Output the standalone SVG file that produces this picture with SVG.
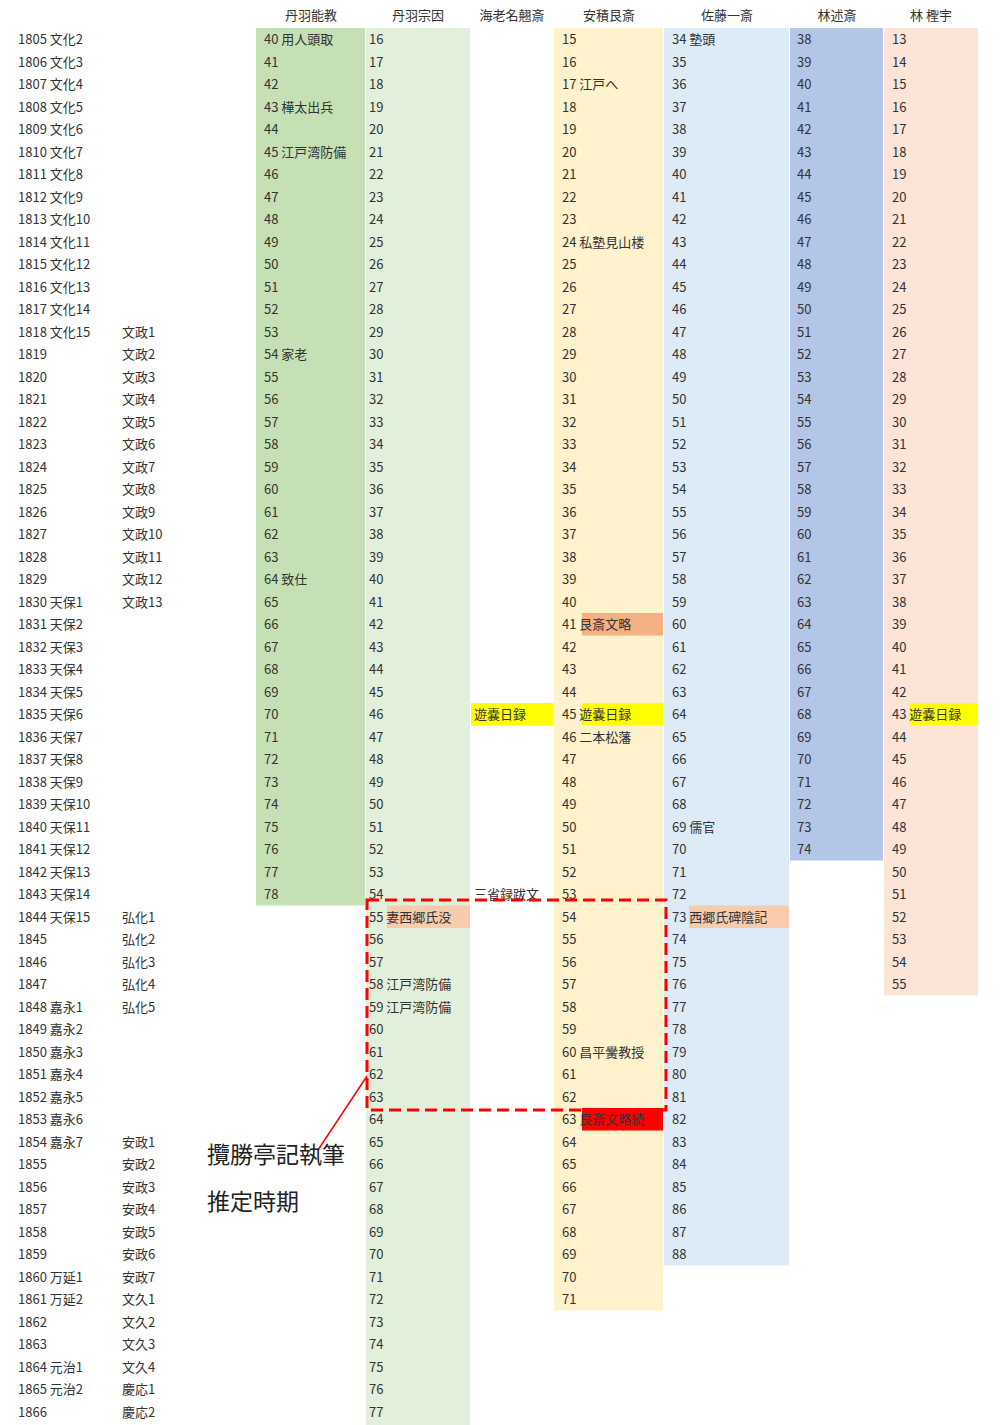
<svg xmlns="http://www.w3.org/2000/svg" width="1000" height="1425" viewBox="0 0 1000 1425">
<style>
text{font-family:"Noto Sans CJK JP","Noto Sans",sans-serif;font-size:13px;fill:#333}
.h{text-anchor:middle}
.big{font-family:"Noto Sans CJK JP",serif;font-size:23px;fill:#222}
</style>
<rect width="1000" height="1425" fill="#fff"/>
<g id="columns">
<rect x="256" y="28" width="109" height="877.5" fill="#c5e0b4"/>
<rect x="366" y="28" width="104" height="1397" fill="#e2efda"/>
<rect x="554" y="28" width="109" height="1282.5" fill="#fff2cc"/>
<rect x="664" y="28" width="125" height="1237.5" fill="#ddebf7"/>
<rect x="790" y="28" width="93" height="832.5" fill="#b4c6e7"/>
<rect x="884" y="28" width="94" height="967.5" fill="#fce4d6"/>
<rect x="582" y="613" width="81" height="22.5" fill="#f4b183"/>
<rect x="471" y="703" width="82" height="22.5" fill="#ffff00"/>
<rect x="582" y="703" width="81" height="22.5" fill="#ffff00"/>
<rect x="910" y="703" width="68" height="22.5" fill="#ffff00"/>
<rect x="387" y="905.5" width="83" height="22.5" fill="#f8cbad"/>
<rect x="689" y="905.5" width="100" height="22.5" fill="#f8cbad"/>
<rect x="582" y="1108" width="81" height="22.5" fill="#ff0000"/>
</g>
<g id="headers">
<text class="h" x="311" y="20">丹羽能教</text>
<text class="h" x="418" y="20">丹羽宗因</text>
<text class="h" x="512" y="20">海老名翹斎</text>
<text class="h" x="609" y="20">安積艮斎</text>
<text class="h" x="727" y="20">佐藤一斎</text>
<text class="h" x="837" y="20">林述斎</text>
<text class="h" x="931" y="20">林 檉宇</text>
</g>
<g id="years"><text>
<tspan x="18" y="44">1805 文化2</tspan><tspan x="18" y="66.5">1806 文化3</tspan><tspan x="18" y="89">1807 文化4</tspan><tspan x="18" y="111.5">1808 文化5</tspan><tspan x="18" y="134">1809 文化6</tspan><tspan x="18" y="156.5">1810 文化7</tspan><tspan x="18" y="179">1811 文化8</tspan><tspan x="18" y="201.5">1812 文化9</tspan><tspan x="18" y="224">1813 文化10</tspan><tspan x="18" y="246.5">1814 文化11</tspan><tspan x="18" y="269">1815 文化12</tspan><tspan x="18" y="291.5">1816 文化13</tspan><tspan x="18" y="314">1817 文化14</tspan><tspan x="18" y="336.5">1818 文化15</tspan><tspan x="18" y="359">1819</tspan><tspan x="18" y="381.5">1820</tspan><tspan x="18" y="404">1821</tspan><tspan x="18" y="426.5">1822</tspan><tspan x="18" y="449">1823</tspan><tspan x="18" y="471.5">1824</tspan><tspan x="18" y="494">1825</tspan><tspan x="18" y="516.5">1826</tspan><tspan x="18" y="539">1827</tspan><tspan x="18" y="561.5">1828</tspan><tspan x="18" y="584">1829</tspan><tspan x="18" y="606.5">1830 天保1</tspan><tspan x="18" y="629">1831 天保2</tspan><tspan x="18" y="651.5">1832 天保3</tspan><tspan x="18" y="674">1833 天保4</tspan><tspan x="18" y="696.5">1834 天保5</tspan><tspan x="18" y="719">1835 天保6</tspan><tspan x="18" y="741.5">1836 天保7</tspan><tspan x="18" y="764">1837 天保8</tspan><tspan x="18" y="786.5">1838 天保9</tspan><tspan x="18" y="809">1839 天保10</tspan><tspan x="18" y="831.5">1840 天保11</tspan><tspan x="18" y="854">1841 天保12</tspan><tspan x="18" y="876.5">1842 天保13</tspan><tspan x="18" y="899">1843 天保14</tspan><tspan x="18" y="921.5">1844 天保15</tspan><tspan x="18" y="944">1845</tspan><tspan x="18" y="966.5">1846</tspan><tspan x="18" y="989">1847</tspan><tspan x="18" y="1011.5">1848 嘉永1</tspan><tspan x="18" y="1034">1849 嘉永2</tspan><tspan x="18" y="1056.5">1850 嘉永3</tspan><tspan x="18" y="1079">1851 嘉永4</tspan><tspan x="18" y="1101.5">1852 嘉永5</tspan><tspan x="18" y="1124">1853 嘉永6</tspan><tspan x="18" y="1146.5">1854 嘉永7</tspan><tspan x="18" y="1169">1855</tspan><tspan x="18" y="1191.5">1856</tspan><tspan x="18" y="1214">1857</tspan><tspan x="18" y="1236.5">1858</tspan><tspan x="18" y="1259">1859</tspan><tspan x="18" y="1281.5">1860 万延1</tspan><tspan x="18" y="1304">1861 万延2</tspan><tspan x="18" y="1326.5">1862</tspan><tspan x="18" y="1349">1863</tspan><tspan x="18" y="1371.5">1864 元治1</tspan><tspan x="18" y="1394">1865 元治2</tspan><tspan x="18" y="1416.5">1866</tspan>
</text>
<text>
<tspan x="122" y="336.5">文政1</tspan><tspan x="122" y="359">文政2</tspan><tspan x="122" y="381.5">文政3</tspan><tspan x="122" y="404">文政4</tspan><tspan x="122" y="426.5">文政5</tspan><tspan x="122" y="449">文政6</tspan><tspan x="122" y="471.5">文政7</tspan><tspan x="122" y="494">文政8</tspan><tspan x="122" y="516.5">文政9</tspan><tspan x="122" y="539">文政10</tspan><tspan x="122" y="561.5">文政11</tspan><tspan x="122" y="584">文政12</tspan><tspan x="122" y="606.5">文政13</tspan>
<tspan x="122" y="921.5">弘化1</tspan><tspan x="122" y="944">弘化2</tspan><tspan x="122" y="966.5">弘化3</tspan><tspan x="122" y="989">弘化4</tspan><tspan x="122" y="1011.5">弘化5</tspan>
<tspan x="122" y="1146.5">安政1</tspan><tspan x="122" y="1169">安政2</tspan><tspan x="122" y="1191.5">安政3</tspan><tspan x="122" y="1214">安政4</tspan><tspan x="122" y="1236.5">安政5</tspan><tspan x="122" y="1259">安政6</tspan><tspan x="122" y="1281.5">安政7</tspan><tspan x="122" y="1304">文久1</tspan><tspan x="122" y="1326.5">文久2</tspan><tspan x="122" y="1349">文久3</tspan><tspan x="122" y="1371.5">文久4</tspan><tspan x="122" y="1394">慶応1</tspan><tspan x="122" y="1416.5">慶応2</tspan>
</text></g>
<g id="col-yoshinori"><text>
<tspan x="264" y="44">40 用人頭取</tspan><tspan x="264" y="66.5">41</tspan><tspan x="264" y="89">42</tspan><tspan x="264" y="111.5">43 樺太出兵</tspan><tspan x="264" y="134">44</tspan><tspan x="264" y="156.5">45 江戸湾防備</tspan><tspan x="264" y="179">46</tspan><tspan x="264" y="201.5">47</tspan><tspan x="264" y="224">48</tspan><tspan x="264" y="246.5">49</tspan><tspan x="264" y="269">50</tspan><tspan x="264" y="291.5">51</tspan><tspan x="264" y="314">52</tspan><tspan x="264" y="336.5">53</tspan><tspan x="264" y="359">54 家老</tspan><tspan x="264" y="381.5">55</tspan><tspan x="264" y="404">56</tspan><tspan x="264" y="426.5">57</tspan><tspan x="264" y="449">58</tspan><tspan x="264" y="471.5">59</tspan><tspan x="264" y="494">60</tspan><tspan x="264" y="516.5">61</tspan><tspan x="264" y="539">62</tspan><tspan x="264" y="561.5">63</tspan><tspan x="264" y="584">64 致仕</tspan><tspan x="264" y="606.5">65</tspan><tspan x="264" y="629">66</tspan><tspan x="264" y="651.5">67</tspan><tspan x="264" y="674">68</tspan><tspan x="264" y="696.5">69</tspan><tspan x="264" y="719">70</tspan><tspan x="264" y="741.5">71</tspan><tspan x="264" y="764">72</tspan><tspan x="264" y="786.5">73</tspan><tspan x="264" y="809">74</tspan><tspan x="264" y="831.5">75</tspan><tspan x="264" y="854">76</tspan><tspan x="264" y="876.5">77</tspan><tspan x="264" y="899">78</tspan>
</text></g>
<g id="col-soin"><text>
<tspan x="369" y="44">16</tspan><tspan x="369" y="66.5">17</tspan><tspan x="369" y="89">18</tspan><tspan x="369" y="111.5">19</tspan><tspan x="369" y="134">20</tspan><tspan x="369" y="156.5">21</tspan><tspan x="369" y="179">22</tspan><tspan x="369" y="201.5">23</tspan><tspan x="369" y="224">24</tspan><tspan x="369" y="246.5">25</tspan><tspan x="369" y="269">26</tspan><tspan x="369" y="291.5">27</tspan><tspan x="369" y="314">28</tspan><tspan x="369" y="336.5">29</tspan><tspan x="369" y="359">30</tspan><tspan x="369" y="381.5">31</tspan><tspan x="369" y="404">32</tspan><tspan x="369" y="426.5">33</tspan><tspan x="369" y="449">34</tspan><tspan x="369" y="471.5">35</tspan><tspan x="369" y="494">36</tspan><tspan x="369" y="516.5">37</tspan><tspan x="369" y="539">38</tspan><tspan x="369" y="561.5">39</tspan><tspan x="369" y="584">40</tspan><tspan x="369" y="606.5">41</tspan><tspan x="369" y="629">42</tspan><tspan x="369" y="651.5">43</tspan><tspan x="369" y="674">44</tspan><tspan x="369" y="696.5">45</tspan><tspan x="369" y="719">46</tspan><tspan x="369" y="741.5">47</tspan><tspan x="369" y="764">48</tspan><tspan x="369" y="786.5">49</tspan><tspan x="369" y="809">50</tspan><tspan x="369" y="831.5">51</tspan><tspan x="369" y="854">52</tspan><tspan x="369" y="876.5">53</tspan><tspan x="369" y="899">54</tspan><tspan x="369" y="921.5">55 妻西郷氏没</tspan><tspan x="369" y="944">56</tspan><tspan x="369" y="966.5">57</tspan><tspan x="369" y="989">58 江戸湾防備</tspan><tspan x="369" y="1011.5">59 江戸湾防備</tspan><tspan x="369" y="1034">60</tspan><tspan x="369" y="1056.5">61</tspan><tspan x="369" y="1079">62</tspan><tspan x="369" y="1101.5">63</tspan><tspan x="369" y="1124">64</tspan><tspan x="369" y="1146.5">65</tspan><tspan x="369" y="1169">66</tspan><tspan x="369" y="1191.5">67</tspan><tspan x="369" y="1214">68</tspan><tspan x="369" y="1236.5">69</tspan><tspan x="369" y="1259">70</tspan><tspan x="369" y="1281.5">71</tspan><tspan x="369" y="1304">72</tspan><tspan x="369" y="1326.5">73</tspan><tspan x="369" y="1349">74</tspan><tspan x="369" y="1371.5">75</tspan><tspan x="369" y="1394">76</tspan><tspan x="369" y="1416.5">77</tspan>
</text></g>
<g id="col-ebina"><text><tspan x="474" y="719">遊嚢日録</tspan><tspan x="474" y="899">三省録跋文</tspan></text></g>
<g id="col-gonsai"><text>
<tspan x="562" y="44">15</tspan><tspan x="562" y="66.5">16</tspan><tspan x="562" y="89">17 江戸へ</tspan><tspan x="562" y="111.5">18</tspan><tspan x="562" y="134">19</tspan><tspan x="562" y="156.5">20</tspan><tspan x="562" y="179">21</tspan><tspan x="562" y="201.5">22</tspan><tspan x="562" y="224">23</tspan><tspan x="562" y="246.5">24 私塾見山楼</tspan><tspan x="562" y="269">25</tspan><tspan x="562" y="291.5">26</tspan><tspan x="562" y="314">27</tspan><tspan x="562" y="336.5">28</tspan><tspan x="562" y="359">29</tspan><tspan x="562" y="381.5">30</tspan><tspan x="562" y="404">31</tspan><tspan x="562" y="426.5">32</tspan><tspan x="562" y="449">33</tspan><tspan x="562" y="471.5">34</tspan><tspan x="562" y="494">35</tspan><tspan x="562" y="516.5">36</tspan><tspan x="562" y="539">37</tspan><tspan x="562" y="561.5">38</tspan><tspan x="562" y="584">39</tspan><tspan x="562" y="606.5">40</tspan><tspan x="562" y="629">41 艮斎文略</tspan><tspan x="562" y="651.5">42</tspan><tspan x="562" y="674">43</tspan><tspan x="562" y="696.5">44</tspan><tspan x="562" y="719">45 遊嚢日録</tspan><tspan x="562" y="741.5">46 二本松藩</tspan><tspan x="562" y="764">47</tspan><tspan x="562" y="786.5">48</tspan><tspan x="562" y="809">49</tspan><tspan x="562" y="831.5">50</tspan><tspan x="562" y="854">51</tspan><tspan x="562" y="876.5">52</tspan><tspan x="562" y="899">53</tspan><tspan x="562" y="921.5">54</tspan><tspan x="562" y="944">55</tspan><tspan x="562" y="966.5">56</tspan><tspan x="562" y="989">57</tspan><tspan x="562" y="1011.5">58</tspan><tspan x="562" y="1034">59</tspan><tspan x="562" y="1056.5">60 昌平黌教授</tspan><tspan x="562" y="1079">61</tspan><tspan x="562" y="1101.5">62</tspan><tspan x="562" y="1124">63 艮斎文略続</tspan><tspan x="562" y="1146.5">64</tspan><tspan x="562" y="1169">65</tspan><tspan x="562" y="1191.5">66</tspan><tspan x="562" y="1214">67</tspan><tspan x="562" y="1236.5">68</tspan><tspan x="562" y="1259">69</tspan><tspan x="562" y="1281.5">70</tspan><tspan x="562" y="1304">71</tspan>
</text></g>
<g id="col-issai"><text>
<tspan x="672" y="44">34 塾頭</tspan><tspan x="672" y="66.5">35</tspan><tspan x="672" y="89">36</tspan><tspan x="672" y="111.5">37</tspan><tspan x="672" y="134">38</tspan><tspan x="672" y="156.5">39</tspan><tspan x="672" y="179">40</tspan><tspan x="672" y="201.5">41</tspan><tspan x="672" y="224">42</tspan><tspan x="672" y="246.5">43</tspan><tspan x="672" y="269">44</tspan><tspan x="672" y="291.5">45</tspan><tspan x="672" y="314">46</tspan><tspan x="672" y="336.5">47</tspan><tspan x="672" y="359">48</tspan><tspan x="672" y="381.5">49</tspan><tspan x="672" y="404">50</tspan><tspan x="672" y="426.5">51</tspan><tspan x="672" y="449">52</tspan><tspan x="672" y="471.5">53</tspan><tspan x="672" y="494">54</tspan><tspan x="672" y="516.5">55</tspan><tspan x="672" y="539">56</tspan><tspan x="672" y="561.5">57</tspan><tspan x="672" y="584">58</tspan><tspan x="672" y="606.5">59</tspan><tspan x="672" y="629">60</tspan><tspan x="672" y="651.5">61</tspan><tspan x="672" y="674">62</tspan><tspan x="672" y="696.5">63</tspan><tspan x="672" y="719">64</tspan><tspan x="672" y="741.5">65</tspan><tspan x="672" y="764">66</tspan><tspan x="672" y="786.5">67</tspan><tspan x="672" y="809">68</tspan><tspan x="672" y="831.5">69 儒官</tspan><tspan x="672" y="854">70</tspan><tspan x="672" y="876.5">71</tspan><tspan x="672" y="899">72</tspan><tspan x="672" y="921.5">73 西郷氏碑陰記</tspan><tspan x="672" y="944">74</tspan><tspan x="672" y="966.5">75</tspan><tspan x="672" y="989">76</tspan><tspan x="672" y="1011.5">77</tspan><tspan x="672" y="1034">78</tspan><tspan x="672" y="1056.5">79</tspan><tspan x="672" y="1079">80</tspan><tspan x="672" y="1101.5">81</tspan><tspan x="672" y="1124">82</tspan><tspan x="672" y="1146.5">83</tspan><tspan x="672" y="1169">84</tspan><tspan x="672" y="1191.5">85</tspan><tspan x="672" y="1214">86</tspan><tspan x="672" y="1236.5">87</tspan><tspan x="672" y="1259">88</tspan>
</text></g>
<g id="col-jussai"><text>
<tspan x="797" y="44">38</tspan><tspan x="797" y="66.5">39</tspan><tspan x="797" y="89">40</tspan><tspan x="797" y="111.5">41</tspan><tspan x="797" y="134">42</tspan><tspan x="797" y="156.5">43</tspan><tspan x="797" y="179">44</tspan><tspan x="797" y="201.5">45</tspan><tspan x="797" y="224">46</tspan><tspan x="797" y="246.5">47</tspan><tspan x="797" y="269">48</tspan><tspan x="797" y="291.5">49</tspan><tspan x="797" y="314">50</tspan><tspan x="797" y="336.5">51</tspan><tspan x="797" y="359">52</tspan><tspan x="797" y="381.5">53</tspan><tspan x="797" y="404">54</tspan><tspan x="797" y="426.5">55</tspan><tspan x="797" y="449">56</tspan><tspan x="797" y="471.5">57</tspan><tspan x="797" y="494">58</tspan><tspan x="797" y="516.5">59</tspan><tspan x="797" y="539">60</tspan><tspan x="797" y="561.5">61</tspan><tspan x="797" y="584">62</tspan><tspan x="797" y="606.5">63</tspan><tspan x="797" y="629">64</tspan><tspan x="797" y="651.5">65</tspan><tspan x="797" y="674">66</tspan><tspan x="797" y="696.5">67</tspan><tspan x="797" y="719">68</tspan><tspan x="797" y="741.5">69</tspan><tspan x="797" y="764">70</tspan><tspan x="797" y="786.5">71</tspan><tspan x="797" y="809">72</tspan><tspan x="797" y="831.5">73</tspan><tspan x="797" y="854">74</tspan>
</text></g>
<g id="col-teiu"><text>
<tspan x="892" y="44">13</tspan><tspan x="892" y="66.5">14</tspan><tspan x="892" y="89">15</tspan><tspan x="892" y="111.5">16</tspan><tspan x="892" y="134">17</tspan><tspan x="892" y="156.5">18</tspan><tspan x="892" y="179">19</tspan><tspan x="892" y="201.5">20</tspan><tspan x="892" y="224">21</tspan><tspan x="892" y="246.5">22</tspan><tspan x="892" y="269">23</tspan><tspan x="892" y="291.5">24</tspan><tspan x="892" y="314">25</tspan><tspan x="892" y="336.5">26</tspan><tspan x="892" y="359">27</tspan><tspan x="892" y="381.5">28</tspan><tspan x="892" y="404">29</tspan><tspan x="892" y="426.5">30</tspan><tspan x="892" y="449">31</tspan><tspan x="892" y="471.5">32</tspan><tspan x="892" y="494">33</tspan><tspan x="892" y="516.5">34</tspan><tspan x="892" y="539">35</tspan><tspan x="892" y="561.5">36</tspan><tspan x="892" y="584">37</tspan><tspan x="892" y="606.5">38</tspan><tspan x="892" y="629">39</tspan><tspan x="892" y="651.5">40</tspan><tspan x="892" y="674">41</tspan><tspan x="892" y="696.5">42</tspan><tspan x="892" y="719">43 遊嚢日録</tspan><tspan x="892" y="741.5">44</tspan><tspan x="892" y="764">45</tspan><tspan x="892" y="786.5">46</tspan><tspan x="892" y="809">47</tspan><tspan x="892" y="831.5">48</tspan><tspan x="892" y="854">49</tspan><tspan x="892" y="876.5">50</tspan><tspan x="892" y="899">51</tspan><tspan x="892" y="921.5">52</tspan><tspan x="892" y="944">53</tspan><tspan x="892" y="966.5">54</tspan><tspan x="892" y="989">55</tspan>
</text></g>
<g id="connectors">
<rect x="367" y="900" width="299" height="210" fill="none" stroke="#ff0000" stroke-width="3" stroke-dasharray="12,6"/>
<line x1="367" y1="1076" x2="318" y2="1150" stroke="#ff0000" stroke-width="1.5"/>
</g>
<g id="annotation">
<text class="big" x="207" y="1163">攬勝亭記執筆</text>
<text class="big" x="207" y="1210">推定時期</text>
</g>
</svg>
